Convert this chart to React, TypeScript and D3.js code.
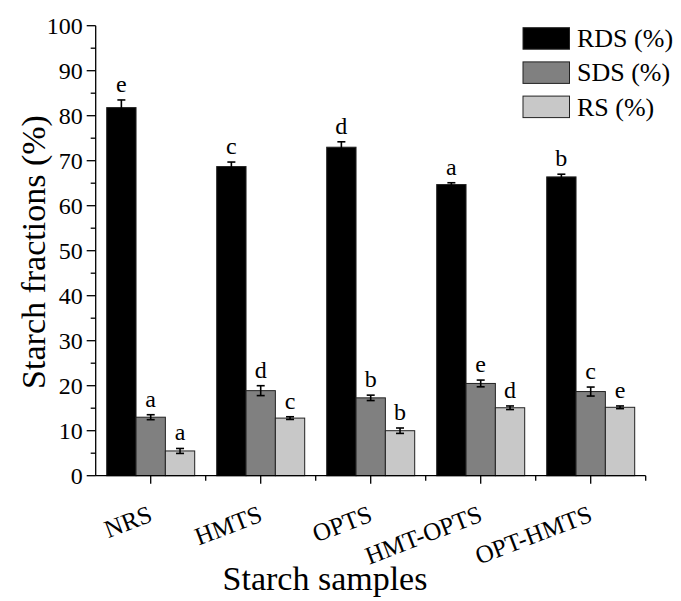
import * as d3 from "d3";
import { useEffect, useRef } from "react";

// starch samples on the x axis
const samples = ["NRS", "HMTS", "OPTS", "HMT-OPTS", "OPT-HMTS"];
const fractions = ["RDS (%)", "SDS (%)", "RS (%)"];
const fractionColors = ["#000000", "#808080", "#c8c8c8"];

// values
const rdsValues = [81.8, 68.7, 73.0, 64.7, 66.4];
const rdsErrors = [1.7, 1.0, 1.2, 0.4, 0.6];
const rdsLetters = ["e", "c", "d", "a", "b"];

const sdsValues = [13.0, 18.9, 17.3, 20.5, 18.7];
const sdsErrors = [0.55, 1.1, 0.6, 0.75, 1.0];
const sdsLetters = ["a", "d", "b", "e", "c"];

const rsValues = [5.5, 12.8, 10.0, 15.1, 15.2];
const rsErrors = [0.55, 0.3, 0.6, 0.4, 0.3];
const rsLetters = ["a", "c", "b", "d", "e"];

const yTicks = [0, 10, 20, 30, 40, 50, 60, 70, 80, 90, 100];
const yMinorTicks = [5, 15, 25, 35, 45, 55, 65, 75, 85, 95];

const FONT = "'Liberation Serif', 'Times New Roman', serif";

const App = () => {
  const svgRef = useRef(null);
  const width = 681;
  const height = 601;

  useEffect(() => {
    const margin = { top: 25.7, left: 95.7, right: 35.3, bottom: 125.3 };
    const svg = d3.select(svgRef.current);
    svg.selectAll("*").remove();

    const x = d3
      .scaleBand()
      .domain(samples)
      .range([margin.left, width - margin.right])
      .paddingInner(0.2)
      .paddingOuter(0.1);
    const xFull = d3
      .scaleBand()
      .domain(samples)
      .range([margin.left, width - margin.right]);
    const xSub = d3
      .scaleBand()
      .domain(fractions)
      .range([0, x.bandwidth()]);
    const y = d3
      .scaleLinear()
      .domain([0, 100])
      .range([height - margin.bottom, margin.top]);

    const series = [
      { key: fractions[0], values: rdsValues, errors: rdsErrors, letters: rdsLetters },
      { key: fractions[1], values: sdsValues, errors: sdsErrors, letters: sdsLetters },
      { key: fractions[2], values: rsValues, errors: rsErrors, letters: rsLetters },
    ];
    const rows = series.flatMap((s, si) =>
      samples.map((name, i) => ({
        name,
        key: s.key,
        color: fractionColors[si],
        value: s.values[i],
        error: s.errors[i],
        letter: s.letters[i],
      }))
    );

    // bars
    svg
      .append("g")
      .selectAll("rect")
      .data(rows)
      .join("rect")
      .attr("x", (d) => x(d.name) + xSub(d.key))
      .attr("y", (d) => y(d.value))
      .attr("width", xSub.bandwidth())
      .attr("height", (d) => y(0) - y(d.value))
      .attr("fill", (d) => d.color)
      .attr("stroke", "#222")
      .attr("stroke-width", 1);

    // error bars
    const eb = svg
      .append("g")
      .attr("stroke", "#000")
      .attr("stroke-width", 1.6)
      .selectAll("g")
      .data(rows)
      .join("g")
      .attr("transform", (d) => `translate(${x(d.name) + xSub(d.key) + xSub.bandwidth() / 2},0)`);
    eb.append("line")
      .attr("y1", (d) => y(d.value - d.error))
      .attr("y2", (d) => y(d.value + d.error));
    eb.append("line")
      .attr("x1", -4)
      .attr("x2", 4)
      .attr("y1", (d) => y(d.value + d.error))
      .attr("y2", (d) => y(d.value + d.error));
    eb.append("line")
      .attr("x1", -4)
      .attr("x2", 4)
      .attr("y1", (d) => y(d.value - d.error))
      .attr("y2", (d) => y(d.value - d.error));

    // significance letters
    svg
      .append("g")
      .selectAll("text")
      .data(rows)
      .join("text")
      .attr("x", (d) => x(d.name) + xSub(d.key) + xSub.bandwidth() / 2)
      .attr("y", (d) => y(d.value + d.error) - 8)
      .attr("text-anchor", "middle")
      .attr("font-family", FONT)
      .attr("font-size", 24)
      .text((d) => d.letter);

    // y axis
    const yAxis = svg.append("g").attr("stroke", "#000").attr("stroke-width", 1.3);
    yAxis
      .append("line")
      .attr("x1", margin.left)
      .attr("x2", margin.left)
      .attr("y1", y(0))
      .attr("y2", y(100));
    yAxis
      .selectAll("line.major")
      .data(yTicks)
      .join("line")
      .attr("class", "major")
      .attr("x1", margin.left - 9)
      .attr("x2", margin.left)
      .attr("y1", (d) => y(d))
      .attr("y2", (d) => y(d));
    yAxis
      .selectAll("line.minor")
      .data(yMinorTicks)
      .join("line")
      .attr("class", "minor")
      .attr("x1", margin.left - 5)
      .attr("x2", margin.left)
      .attr("y1", (d) => y(d))
      .attr("y2", (d) => y(d));
    svg
      .append("g")
      .selectAll("text")
      .data(yTicks)
      .join("text")
      .attr("x", margin.left - 13)
      .attr("y", (d) => y(d))
      .attr("dy", "0.35em")
      .attr("text-anchor", "end")
      .attr("font-family", FONT)
      .attr("font-size", 24)
      .text((d) => d);

    // x axis
    const xAxis = svg.append("g").attr("stroke", "#000").attr("stroke-width", 1.3);
    xAxis
      .append("line")
      .attr("x1", margin.left)
      .attr("x2", width - margin.right)
      .attr("y1", y(0))
      .attr("y2", y(0));
    xAxis
      .selectAll("line.major")
      .data(samples)
      .join("line")
      .attr("class", "major")
      .attr("x1", (d) => xFull(d) + xFull.bandwidth() / 2)
      .attr("x2", (d) => xFull(d) + xFull.bandwidth() / 2)
      .attr("y1", y(0))
      .attr("y2", y(0) + 8);
    xAxis
      .selectAll("line.minor")
      .data(samples.slice(1).concat(["end"]))
      .join("line")
      .attr("class", "minor")
      .attr("x1", (d, i) => margin.left + (i + 1) * xFull.bandwidth())
      .attr("x2", (d, i) => margin.left + (i + 1) * xFull.bandwidth())
      .attr("y1", y(0))
      .attr("y2", y(0) + 5);
    svg
      .append("g")
      .selectAll("text")
      .data(samples)
      .join("text")
      .attr(
        "transform",
        (d) => `translate(${xFull(d) + xFull.bandwidth() / 2 + 3},${y(0) + 45}) rotate(-21)`
      )
      .attr("text-anchor", "end")
      .attr("font-family", FONT)
      .attr("font-size", 25)
      .text((d) => d);

    // axis titles
    svg
      .append("text")
      .attr("x", 325)
      .attr("y", 590)
      .attr("text-anchor", "middle")
      .attr("font-family", FONT)
      .attr("font-size", 34)
      .text("Starch samples");
    svg
      .append("text")
      .attr("transform", `translate(45,${252}) rotate(-90)`)
      .attr("text-anchor", "middle")
      .attr("font-family", FONT)
      .attr("font-size", 34)
      .text("Starch fractions (%)");

    // legend
    const legend = svg
      .append("g")
      .selectAll("g")
      .data(fractions)
      .join("g")
      .attr("transform", (d, i) => `translate(523,${27.7 + i * 34.2})`);
    legend
      .append("rect")
      .attr("width", 46.5)
      .attr("height", 21.5)
      .attr("fill", (d, i) => fractionColors[i])
      .attr("stroke", "#222")
      .attr("stroke-width", 1);
    legend
      .append("text")
      .attr("x", 54)
      .attr("y", 19.5)
      .attr("font-family", FONT)
      .attr("font-size", 26)
      .text((d) => d);
  }, []);

  return (
    <svg
      ref={svgRef}
      width={width}
      height={height}
      style={{ position: "absolute", left: 0, top: 0, background: "#fff" }}
    ></svg>
  );
};

export default App;
